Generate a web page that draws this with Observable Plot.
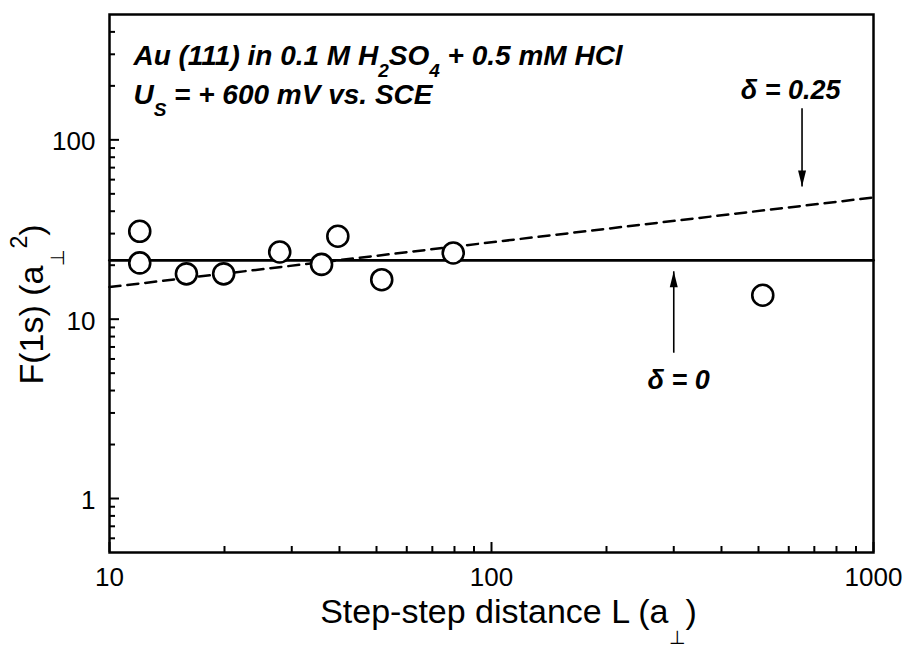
<!DOCTYPE html>
<html>
<head>
<meta charset="utf-8">
<script src="https://cdn.jsdelivr.net/npm/d3@7"></script>
<script src="https://cdn.jsdelivr.net/npm/@observablehq/plot@0.6"></script>
<style>
  html, body { margin: 0; padding: 0; background: #fff; }
  svg { display: block; }
</style>
</head>
<body>
<div id="chart"></div>
<script>
// ---- data ----
const stepDistance = [12, 12, 15.9, 19.9, 27.9, 35.9, 39.6, 51.6, 79.4, 513];
const f1s          = [30.9, 20.6, 17.9, 17.9, 23.7, 20.2, 29.0, 16.6, 23.4, 13.6];

// delta = 0 (horizontal) and delta = 0.25 (dashed) lines
const flatL = [10, 1000];
const flatF = [21.3, 21.3];
const fitL  = [10, 1000];
const fitF  = [15.1, 47.7];

// tick values
const xMajor = [10, 100, 1000];
const xMinor = [20, 30, 40, 50, 60, 70, 80, 90, 200, 300, 400, 500, 600, 700, 800, 900];
const yMajor = [1, 10, 100];
const yMinor = [0.6, 0.7, 0.8, 0.9, 2, 3, 4, 5, 6, 7, 8, 9, 20, 30, 40, 50, 60, 70, 80, 90, 200, 300, 400];
const xTickLabels = ["10", "100", "1000"];
const yTickLabels = ["1", "10", "100"];

// arrows and their labels
const arrowL    = [650, 300];
const arrowFrom = [150, 6.5];
const arrowTo   = [55, 18.5];
const deltaText = ["δ = 0.25", "δ = 0"];
const deltaL    = [607, 309];
const deltaF    = [168, 4.07];

// annotation
const noteText = ["Au (111) in 0.1 M H_{2}SO_{4} + 0.5 mM HCl", "U_{S} = + 600 mV vs. SCE"];
const noteL = [11.55, 11.55];
const noteF = [262, 158];

const xTitle = "Step-step distance L (a_{⊥})";
const yTitle = "F(1s) (a_{⊥}^{2})";

// ---- tables built from the arrays ----
const points = stepDistance.map((L, i) => ({L, F: f1s[i]}));
const flat = flatL.map((L, i) => ({L, F: flatF[i]}));
const fit = fitL.map((L, i) => ({L, F: fitF[i]}));
const arrows = arrowL.map((L, i) => ({L, from: arrowFrom[i], to: arrowTo[i]}));
const deltas = deltaText.map((t, i) => ({t, L: deltaL[i], F: deltaF[i]}));
const notes = noteText.map((t, i) => ({t, L: noteL[i], F: noteF[i]}));
const xLabs = xMajor.map((v, i) => ({v, t: xTickLabels[i]}));
const yLabs = yMajor.map((v, i) => ({v, t: yTickLabels[i]}));

const W = 909, H = 648, mL = 109, mR = 36, mT = 14, mB = 96;
const frameW = W - mL - mR, frameH = H - mT - mB;
const font = "'Liberation Sans', Arial, Helvetica, sans-serif";

const chart = Plot.plot({
  width: W,
  height: H,
  marginLeft: mL,
  marginRight: mR,
  marginTop: mT,
  marginBottom: mB,
  style: {fontFamily: font, fontSize: "25px", color: "#000", background: "#fff"},
  x: {type: "log", domain: [10, 1000], axis: null},
  y: {type: "log", domain: [0.5, 500], axis: null},
  marks: [
    // inward ticks
    Plot.ruleX(xMajor, {x: d => d, insetTop: frameH - 10, stroke: "#000", strokeWidth: 2}),
    Plot.ruleX(xMinor, {x: d => d, insetTop: frameH - 6, stroke: "#000", strokeWidth: 2}),
    Plot.ruleY(yMajor, {y: d => d, insetRight: frameW - 10, stroke: "#000", strokeWidth: 2}),
    Plot.ruleY(yMinor, {y: d => d, insetRight: frameW - 6, stroke: "#000", strokeWidth: 2}),
    // tick labels
    Plot.text(xLabs, {x: "v", text: "t", frameAnchor: "bottom", lineAnchor: "middle", dy: 25, fontSize: 26}),
    Plot.text(yLabs, {y: "v", text: "t", frameAnchor: "left", textAnchor: "end", lineAnchor: "middle", dx: -14, dy: 2, fontSize: 26}),
    // axis titles
    Plot.text([xTitle], {text: d => d, frameAnchor: "bottom", textAnchor: "middle", lineAnchor: "bottom", dy: 70, dx: 17, fontSize: 34}),
    Plot.text([yTitle], {text: d => d, frameAnchor: "left", textAnchor: "middle", lineAnchor: "bottom", rotate: -90, dx: -67, dy: 21, fontSize: 34}),
    // lines
    Plot.line(flat, {x: "L", y: "F", stroke: "#000", strokeWidth: 2.8}),
    Plot.line(fit, {x: "L", y: "F", stroke: "#000", strokeWidth: 2.5, strokeDasharray: "11,7"}),
    // data points
    Plot.dot(points, {x: "L", y: "F", r: 10.5, stroke: "#000", strokeWidth: 2.6, fill: "#fff"}),
    // arrows
    Plot.link(arrows, {x1: "L", x2: "L", y1: "from", y2: "to", stroke: "#000", strokeWidth: 1.6}),
    Plot.vector(arrows, {x: "L", y: "to", rotate: d => d.from > d.to ? 180 : 0, length: 16, r: 4, shape: "spike", anchor: "end", fill: "#000", stroke: "none"}),
    // labels
    Plot.text(deltas, {x: "L", y: "F", text: "t", lineAnchor: "bottom", fontSize: 27, fontWeight: "bold", fontStyle: "italic"}),
    Plot.text(notes, {x: "L", y: "F", text: "t", textAnchor: "start", lineAnchor: "bottom", fontSize: 28, fontWeight: "bold", fontStyle: "italic"}),
    // frame
    Plot.frame({stroke: "#000", strokeWidth: 2.5})
  ]
});

document.getElementById("chart").appendChild(chart);

// turn _{..} and ^{..} markup into real sub/superscript tspans
d3.select(chart).selectAll("text").each(function () {
  const s = this.textContent;
  if (!/[_^]\{/.test(s)) return;
  const P = parseFloat(getComputedStyle(this).fontSize) || 25;
  const parts = [];
  const re = /([_^])\{([^}]*)\}/g;
  let last = 0, m;
  while ((m = re.exec(s))) {
    if (m.index > last) parts.push({t: s.slice(last, m.index), k: ""});
    parts.push({t: m[2], k: m[1]});
    last = re.lastIndex;
  }
  if (last < s.length) parts.push({t: s.slice(last), k: ""});
  this.textContent = "";
  let offset = 0;
  const sel = d3.select(this);
  for (const p of parts) {
    const isPerp = p.t === "⊥";
    const target = p.k === "_" ? (isPerp ? 0.62 : 0.42) * P : p.k === "^" ? -0.45 * P : 0;
    const ts = sel.append("tspan").attr("dy", (target - offset).toFixed(2)).text(p.t);
    if (p.k) ts.attr("font-size", ((isPerp ? 0.55 : 0.68) * P).toFixed(1));
    offset = target;
  }
});
</script>
</body>
</html>
